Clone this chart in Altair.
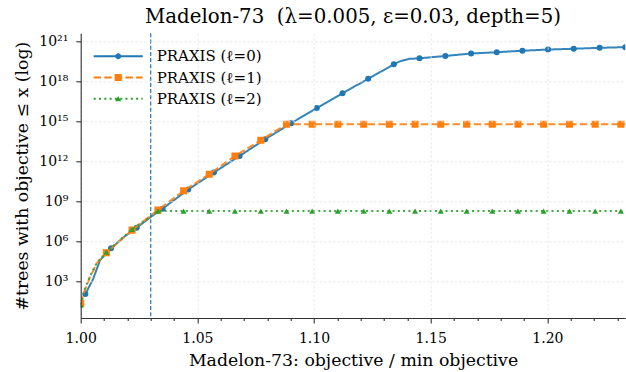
import altair as alt
import pandas as pd

FONT = "DejaVu Serif"

# ---------------- data ----------------
series_labels = ["PRAXIS (ℓ=0)", "PRAXIS (ℓ=1)", "PRAXIS (ℓ=2)"]
series_colors = ["#1f77b4", "#ff7f0e", "#2ca02c"]

# PRAXIS l=0 : marker positions (x, log10 #trees)
blue_x = [1.0020, 1.0130, 1.0240, 1.0351, 1.0461, 1.0571, 1.0681, 1.0791, 1.0902, 1.1012, 1.1122,
          1.1232, 1.1342, 1.1452, 1.1563, 1.1673, 1.1783, 1.1893, 1.2003, 1.2113, 1.2224, 1.2334]
blue_log10 = [2.05, 5.48, 7.02, 8.46, 9.90, 11.18, 12.42, 13.68, 14.88, 16.02, 17.13,
              18.21, 19.30, 19.75, 19.93, 20.11, 20.21, 20.32, 20.41, 20.47, 20.54, 20.59]
# extra line vertices between markers
blue_extra_x = [1.0053, 1.0083, 1.0186, 1.0297, 1.1364, 1.1407]
blue_extra_log10 = [3.17, 4.60, 6.35, 7.80, 19.50, 19.71]

# PRAXIS l=1
orange_x = [1.0000, 1.0110, 1.0220, 1.0331, 1.0441, 1.0551, 1.0661, 1.0772, 1.0882, 1.0992, 1.1102,
            1.1213, 1.1323, 1.1433, 1.1543, 1.1654, 1.1764, 1.1874, 1.1984, 1.2095, 1.2205, 1.2315]
orange_log10 = [1.35, 5.15, 6.85, 8.35, 9.80, 11.05, 12.42, 13.60, 14.80, 14.80, 14.80,
                14.80, 14.80, 14.80, 14.80, 14.80, 14.80, 14.80, 14.80, 14.80, 14.80, 14.80]
orange_extra_x = [1.0018, 1.0040, 1.0069, 1.2334]
orange_extra_log10 = [2.35, 3.32, 4.35, 14.80]

# PRAXIS l=2
green_x = orange_x
green_log10 = [1.22, 5.20, 6.90, 8.28, 8.28, 8.28, 8.28, 8.28, 8.28, 8.28, 8.28,
               8.28, 8.28, 8.28, 8.28, 8.28, 8.28, 8.28, 8.28, 8.28, 8.28, 8.28]
green_extra_x = [1.0018, 1.0040, 1.0069, 1.2334]
green_extra_log10 = [2.45, 3.40, 4.40, 8.28]

eps_x = [1.03]

x_ticks = [1.00, 1.05, 1.10, 1.15, 1.20]
x_minor = [1.01, 1.02, 1.03, 1.04, 1.06, 1.07, 1.08, 1.09, 1.11, 1.12, 1.13, 1.14,
           1.16, 1.17, 1.18, 1.19, 1.21, 1.22, 1.23]
y_tick_exps = [3, 6, 9, 12, 15, 18, 21]
x_domain = [1.0, 1.2334]
y_domain_exp = [0.25, 21.63]

# ---------------- helpers ----------------
SUP = str.maketrans("0123456789", "⁰¹²³⁴⁵⁶⁷⁸⁹")
y_ticks = [10.0 ** e for e in y_tick_exps]
label_expr = " : ".join(
    f"abs(log(datum.value)/LN10 - {e}) < 0.5 ? '10{str(e).translate(SUP)}'" for e in y_tick_exps
) + " : ''"

xscale = alt.Scale(domain=x_domain, nice=False, zero=False)
yscale = alt.Scale(type="log", domain=[10 ** y_domain_exp[0], 10 ** y_domain_exp[1]], nice=False)

major_x_axis = alt.Axis(
    values=x_ticks, format=".2f", orient="bottom", tickSize=4.9, labelPadding=8.5,
    labelFlush=False,
    title="Madelon-73: objective / min objective", titleY=47, titleBaseline="alphabetic",
    grid=True, zindex=1,
)
minor_x_axis = alt.Axis(
    values=x_minor, orient="bottom", tickSize=2.5, labels=False, domain=False, grid=False,
    title=None, zindex=1,
)
y_axis = alt.Axis(
    values=y_ticks, labelExpr=label_expr, tickSize=4.9, labelPadding=8, labelBaseline="middle",
    labelFlush=False, orient="left",
    title="#trees with objective ≤ x (log)", titlePadding=7,
    grid=True, zindex=1,
)


def frame(xs, logs):
    df = pd.DataFrame({"x": xs, "y": [10.0 ** v for v in logs]})
    return df.sort_values("x").reset_index(drop=True)


def series_layers(mx, mlog, ex, elog, color, dash, shape, size):
    line_df = frame(list(mx) + list(ex), list(mlog) + list(elog))
    pts_df = frame(mx, mlog)
    enc = dict(
        x=alt.X("x:Q", scale=xscale, axis=major_x_axis),
        y=alt.Y("y:Q", scale=yscale, axis=y_axis),
    )
    line = alt.Chart(line_df).mark_line(
        color=color, strokeWidth=2, strokeDash=dash, clip=True, opacity=0.9
    ).encode(**enc)
    pts = alt.Chart(pts_df).mark_point(
        shape=shape, filled=True, size=size, color=color, opacity=1, strokeWidth=0, clip=True
    ).encode(**enc)
    return [line, pts]


# legend symbols: custom paths (line pattern + marker), unit = sqrt(size)/2 px
LEG_SIZE = 100
U = (LEG_SIZE ** 0.5) / 2.0
HALF = 24.5 / U


def rect(x0, x1, h):
    return f"M{x0:.3f},{-h:.3f}H{x1:.3f}V{h:.3f}H{x0:.3f}Z"


def dashed(on_px, off_px, h):
    out, pos = "", -HALF
    while pos < HALF:
        end = min(pos + on_px / U, HALF)
        out += rect(pos, end, h)
        pos += (on_px + off_px) / U
    return out


r = 3.0 / U
circle = f"M{r:.3f},0A{r:.3f},{r:.3f},0,1,1,{-r:.3f},0A{r:.3f},{r:.3f},0,1,1,{r:.3f},0Z"
q = 3.6 / U
square = f"M{-q:.3f},{-q:.3f}H{q:.3f}V{q:.3f}H{-q:.3f}Z"
t = 3.0 / U
th = t * 0.866
triangle = f"M0,{-th:.3f}L{t:.3f},{th:.3f}L{-t:.3f},{th:.3f}Z"
lw = 1.0 / U
legend_paths = [
    rect(-HALF, HALF, lw) + circle,
    dashed(7.4, 3.2, lw) + square,
    dashed(2.0, 3.3, lw) + triangle,
]

legend_def = alt.Legend(
    title=None, orient="none", legendX=30, legendY=15.5, padding=0, rowPadding=5.2,
    labelOffset=31, labelFont=FONT, labelFontSize=15, labelColor="black",
    symbolStrokeWidth=0, symbolSize=LEG_SIZE, symbolOpacity=1,
)

legend_layer = alt.Chart(pd.DataFrame({"series": series_labels})).transform_filter(
    "false"
).mark_point(filled=True, size=LEG_SIZE, opacity=1, strokeWidth=0).encode(
    shape=alt.Shape("series:N", scale=alt.Scale(domain=series_labels, range=legend_paths),
                    legend=legend_def),
    fill=alt.Fill("series:N", scale=alt.Scale(domain=series_labels, range=series_colors),
                  legend=legend_def),
)

vline = alt.Chart(pd.DataFrame({"x": eps_x})).mark_rule(
    color=series_colors[0], strokeWidth=1.2, strokeDash=[4, 2.2]
).encode(x=alt.X("x:Q", scale=xscale, axis=minor_x_axis))

data_layers = []
data_layers += series_layers(blue_x, blue_log10, blue_extra_x, blue_extra_log10,
                             series_colors[0], [1, 0], "circle", 36)
data_layers += series_layers(orange_x, orange_log10, orange_extra_x, orange_extra_log10,
                             series_colors[1], [7.4, 3.2], "square", 50)
data_layers += series_layers(green_x, green_log10, green_extra_x, green_extra_log10,
                             series_colors[2], [2, 3.3], "triangle-up", 36)

inner = alt.layer(*data_layers)

chart = alt.layer(inner, vline, legend_layer).resolve_axis(x="independent").properties(
    width=544.6,
    height=284.7,
    padding={"left": 80.7, "top": 33.3, "right": 0.7, "bottom": 54},
    autosize=alt.AutoSizeParams(type="none"),
    title=alt.TitleParams(
        text="Madelon-73\u00a0 (λ=0.005, ε=0.03, depth=5)", font=FONT, fontSize=19.8,
        fontWeight="normal", anchor="middle", offset=10, dy=20, baseline="alphabetic",
        color="black", frame="group",
    ),
).configure_view(stroke=None).configure_axis(
    domainColor="#333333", domainWidth=1.1, tickColor="#333333", tickWidth=1.1,
    labelFont=FONT, labelFontSize=14, labelColor="black",
    titleFont=FONT, titleFontSize=17.3, titleFontWeight="normal", titleColor="black",
    gridColor="#e3e3e3", gridDash=[2.5, 2], gridWidth=0.8,
)

chart.save("out.html", embed_options={"renderer": "svg", "actions": False})
